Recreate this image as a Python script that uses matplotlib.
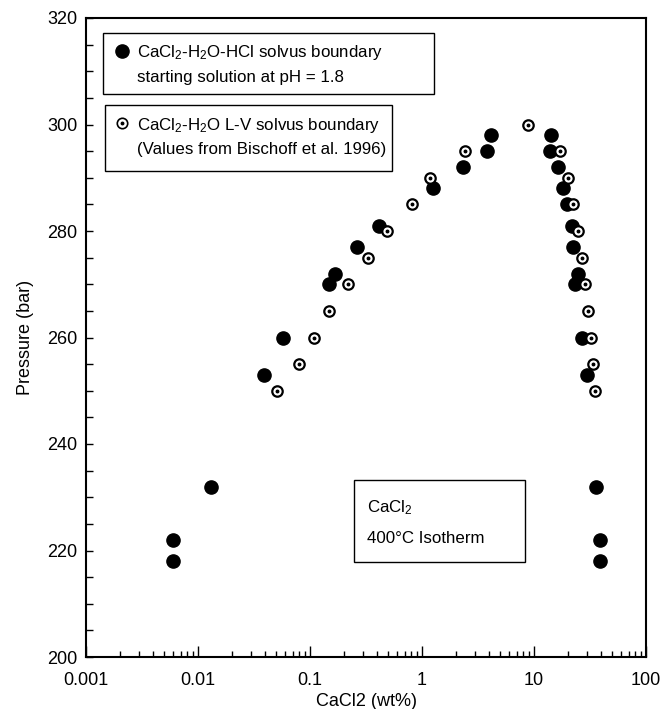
import numpy as np
import matplotlib.pyplot as plt
from matplotlib.patches import Rectangle
from matplotlib.ticker import MultipleLocator, FixedLocator, LogLocator, NullFormatter

plt.rcParams['font.family'] = ['Liberation Sans', 'DejaVu Sans']
plt.rcParams['mathtext.fontset'] = 'custom'
plt.rcParams['mathtext.rm'] = 'Liberation Sans'
plt.rcParams['mathtext.it'] = 'Liberation Sans'

# CaCl2-H2O-HCl solvus boundary (this study, pH 1.8)
hcl_wt = [0.006, 0.006, 0.013, 0.039, 0.057, 0.148, 0.167, 0.265, 0.415, 1.26, 2.34, 3.83, 4.16,
          14.1, 13.8, 16.4, 18.3, 19.6, 22.0, 22.5, 24.9, 23.2, 27.0, 29.9, 35.6, 38.8, 38.8]
hcl_p = [222, 218, 232, 253, 260, 270, 272, 277, 281, 288, 292, 295, 298,
         298, 295, 292, 288, 285, 281, 277, 272, 270, 260, 253, 232, 222, 218]

# CaCl2-H2O L-V solvus boundary (Bischoff et al. 1996)
bis_wt = [0.051, 0.079, 0.109, 0.148, 0.217, 0.332, 0.49, 0.82, 1.17, 2.42, 8.8,
          17.1, 20.0, 22.5, 24.9, 27.0, 28.5, 30.3, 32.5, 33.9, 35.1]
bis_p = [250, 255, 260, 265, 270, 275, 280, 285, 290, 295, 300,
         295, 290, 285, 280, 275, 270, 265, 260, 255, 250]

xticks = [0.001, 0.01, 0.1, 1, 10, 100]
xticklabels = ['0.001', '0.01', '0.1', '1', '10', '100']

fig = plt.figure(figsize=(6.64, 7.09), dpi=100)
ax = fig.add_axes([86 / 664, 1 - 657 / 709, 560 / 664, 639 / 709])

ax.plot(hcl_wt, hcl_p, 'o', ms=9.5, color='black', mec='black', zorder=3)
ax.plot(bis_wt, bis_p, 'o', ms=7.5, mfc='white', mec='black', mew=1.6, zorder=4)
ax.plot(bis_wt, bis_p, 'o', ms=1.8, color='black', zorder=5)

ax.set_xscale('log')
ax.set_xlim(0.001, 100)
ax.set_ylim(200, 320)
ax.xaxis.set_major_locator(FixedLocator(xticks))
ax.set_xticklabels(xticklabels)
ax.xaxis.set_minor_locator(LogLocator(base=10, subs=np.arange(2, 10)))
ax.xaxis.set_minor_formatter(NullFormatter())
ax.yaxis.set_major_locator(MultipleLocator(20))
ax.yaxis.set_minor_locator(MultipleLocator(5))

ax.tick_params(axis='both', which='both', direction='in', labelsize=13,
               top=False, right=False, color='black', width=1.0)
ax.tick_params(axis='x', which='major', length=8, pad=11)
ax.tick_params(axis='x', which='minor', length=4)
ax.tick_params(axis='y', which='major', length=5, pad=6)
ax.tick_params(axis='y', which='minor', length=5)
for s in ax.spines.values():
    s.set_linewidth(1.5)

ax.set_xlabel('CaCl2 (wt%)', fontsize=13, labelpad=3)
ax.set_ylabel('Pressure (bar)', fontsize=13, labelpad=10)

# legend boxes
def fx(px):
    return (px - 86) / 560

def fy(py):
    return (657 - py) / 639

for (x0, y0, x1, y1) in [(103, 33, 434, 94), (105, 105, 392, 171), (354, 480, 525, 562)]:
    ax.add_patch(Rectangle((fx(x0), fy(y1)), fx(x1) - fx(x0), fy(y0) - fy(y1),
                           transform=ax.transAxes, fill=True, fc='white', ec='black',
                           lw=1.0, zorder=6))

ax.plot([fx(122)], [fy(51)], 'o', ms=9.5, color='black', transform=ax.transAxes, zorder=7)
ax.plot([fx(122)], [fy(123)], 'o', ms=7.5, mfc='white', mec='black', mew=1.2,
        transform=ax.transAxes, zorder=7)
ax.plot([fx(122)], [fy(123)], 'o', ms=1.8, color='black', transform=ax.transAxes, zorder=8)

tkw = dict(transform=ax.transAxes, fontsize=12.2, va='baseline', ha='left', zorder=7)
ax.text(fx(137), fy(57), r'CaCl$_2$-H$_2$O-HCl solvus boundary', **tkw)
ax.text(fx(137), fy(82), 'starting solution at pH = 1.8', **tkw)
ax.text(fx(137), fy(130), r'CaCl$_2$-H$_2$O L-V solvus boundary', **tkw)
ax.text(fx(137), fy(154), '(Values from Bischoff et al. 1996)', **tkw)
ax.text(fx(367), fy(512), r'CaCl$_2$', **tkw)
ax.text(fx(367), fy(543), '400°C Isotherm', **tkw)

fig.savefig('out.png', dpi=100)
